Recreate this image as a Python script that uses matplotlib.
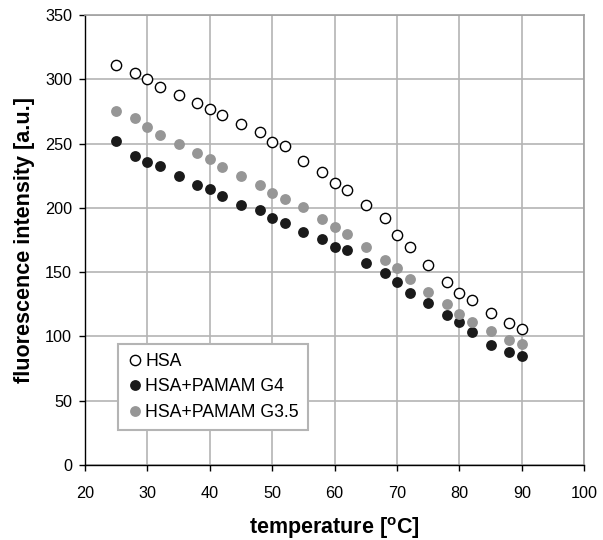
import matplotlib.pyplot as plt

plt.rcParams['font.family'] = ['Liberation Sans', 'DejaVu Sans']
plt.rcParams['mathtext.fontset'] = 'custom'
plt.rcParams['mathtext.bf'] = 'Liberation Sans:bold'
plt.rcParams['mathtext.rm'] = 'Liberation Sans'

# DATA
temp = [25, 28, 30, 32, 35, 38, 40, 42, 45, 48, 50, 52, 55, 58, 60, 62,
        65, 68, 70, 72, 75, 78, 80, 82, 85, 88, 90]
hsa = [311, 305, 300, 294, 288, 282, 277, 272, 265, 259, 251, 248, 236.5,
       228, 219, 214, 202, 192, 179, 169.5, 155.5, 142.5, 134, 128, 118.5,
       110.5, 106]
hsa_g4 = [252, 240.5, 235.5, 232.5, 225, 218, 214.5, 209.5, 202.5, 198,
          192.5, 188, 181.5, 175.5, 169.5, 167.5, 157, 149.5, 142.5, 134,
          126, 117, 111, 103.5, 93, 88, 85]
hsa_g35 = [275.5, 270, 263, 257, 250, 243, 238, 232, 225, 218, 211.5, 207,
           200.5, 191, 185, 180, 169.5, 159.5, 153, 144.5, 134.5, 125.5,
           117.5, 111.5, 104.5, 97.5, 94]
labels = ['HSA', 'HSA+PAMAM G4', 'HSA+PAMAM G3.5']

fig = plt.figure(figsize=(6.03, 5.4), dpi=100)
ax = fig.add_axes([0.141, 0.139, 0.828, 0.833])

ax.plot(temp, hsa, 'o', ms=7.4, mfc='white', mec='black', mew=1.0,
        label=labels[0], zorder=3)
ax.plot(temp, hsa_g4, 'o', ms=7.8, mfc='#1a1a1a', mec='#1a1a1a', mew=0,
        label=labels[1], zorder=3)
ax.plot(temp, hsa_g35, 'o', ms=7.8, mfc='#969696', mec='#969696', mew=0,
        label=labels[2], zorder=3)

ax.set_xlim(20, 100)
ax.set_ylim(0, 350)
ax.set_xticks(range(20, 101, 10))
ax.set_yticks(range(0, 351, 50))
ax.grid(True, color='#b4b4b4', linewidth=1.2)
ax.set_axisbelow(True)

for side in ['top', 'right']:
    ax.spines[side].set_color('#a0a0a0')
    ax.spines[side].set_linewidth(1.2)
for side in ['left', 'bottom']:
    ax.spines[side].set_color('black')
    ax.spines[side].set_linewidth(1.0)

ax.tick_params(direction='out', length=4.3, width=1, labelsize=11.7,
               colors='black', pad=5)
ax.tick_params(axis='x', pad=11)

ax.set_xlabel(r'temperature [$^{\mathbf{o}}$C]', fontsize=15.5,
              fontweight='bold', labelpad=10)
ax.set_ylabel('fluorescence intensity [a.u.]', fontsize=15.5,
              fontweight='bold', labelpad=7)

leg = ax.legend(loc='upper left', bbox_to_anchor=(0.066, 0.268),
                fontsize=12.7, frameon=True, fancybox=False,
                handletextpad=0.15, borderpad=0.5, labelspacing=0.47,
                handlelength=0.9, borderaxespad=0)
leg.get_frame().set_edgecolor('#b4b4b4')
leg.get_frame().set_linewidth(1.5)
leg.get_frame().set_alpha(1)

fig.savefig('out.png', dpi=100)
